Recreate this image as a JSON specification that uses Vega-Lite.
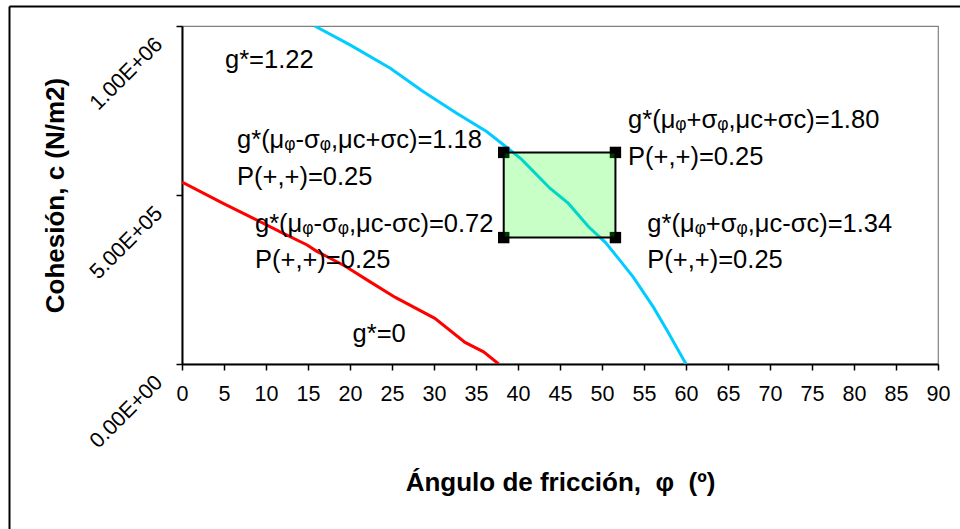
{
  "$schema": "https://vega.github.io/schema/vega-lite/v6.json",
  "autosize": {"type": "none"},
  "padding": {"left": 182, "top": 26, "right": 22, "bottom": 165},
  "width": 756,
  "height": 338,
  "background": "white",
  "config": {
    "view": {"stroke": "#808080", "strokeWidth": 1.2},
    "axis": {
      "grid": false,
      "labelFont": "Liberation Sans",
      "labelColor": "black",
      "labelFontSize": 21.5,
      "titleFont": "Liberation Sans",
      "titleFontWeight": "bold",
      "titleColor": "black",
      "titleFontSize": 26,
      "domainColor": "black",
      "domainWidth": 2,
      "tickColor": "black",
      "tickWidth": 1.5,
      "tickSize": 6,
      "labelFlush": false,
      "labelOverlap": false
    }
  },
  "datasets": {
    "curves": [
      {"series": "g*=0", "phi": 0, "c": 538000},
      {"series": "g*=0", "phi": 4.9, "c": 475000},
      {"series": "g*=0", "phi": 8.5, "c": 431000},
      {"series": "g*=0", "phi": 11.7, "c": 391000},
      {"series": "g*=0", "phi": 14.9, "c": 352000},
      {"series": "g*=0", "phi": 16.0, "c": 334000},
      {"series": "g*=0", "phi": 19.4, "c": 290000},
      {"series": "g*=0", "phi": 22.4, "c": 243000},
      {"series": "g*=0", "phi": 25.4, "c": 197000},
      {"series": "g*=0", "phi": 30.1, "c": 135000},
      {"series": "g*=0", "phi": 33.7, "c": 64000},
      {"series": "g*=0", "phi": 35.9, "c": 36000},
      {"series": "g*=0", "phi": 37.7, "c": 0},
      {"series": "g*=1.22", "phi": 15.8, "c": 1000000},
      {"series": "g*=1.22", "phi": 20.0, "c": 944000},
      {"series": "g*=1.22", "phi": 24.8, "c": 875000},
      {"series": "g*=1.22", "phi": 28.7, "c": 806000},
      {"series": "g*=1.22", "phi": 32.7, "c": 742000},
      {"series": "g*=1.22", "phi": 36.3, "c": 687000},
      {"series": "g*=1.22", "phi": 38.3, "c": 648000},
      {"series": "g*=1.22", "phi": 40.4, "c": 606000},
      {"series": "g*=1.22", "phi": 43.8, "c": 520000},
      {"series": "g*=1.22", "phi": 46.0, "c": 475000},
      {"series": "g*=1.22", "phi": 48.4, "c": 406000},
      {"series": "g*=1.22", "phi": 50.4, "c": 360000},
      {"series": "g*=1.22", "phi": 51.8, "c": 317000},
      {"series": "g*=1.22", "phi": 53.7, "c": 258000},
      {"series": "g*=1.22", "phi": 56.1, "c": 169000},
      {"series": "g*=1.22", "phi": 57.7, "c": 101000},
      {"series": "g*=1.22", "phi": 60.0, "c": 0}
    ],
    "box": [
      {"phi_lo": 38.3, "phi_hi": 51.6, "c_lo": 374000, "c_hi": 626000}
    ],
    "corners": [
      {"phi": 38.3, "c": 626000},
      {"phi": 51.6, "c": 626000},
      {"phi": 38.3, "c": 374000},
      {"phi": 51.6, "c": 374000}
    ],
    "notes": [
      {"phi": 5.12, "c": 876000, "label": "g*=1.22"},
      {"phi": 6.55, "c": 639000, "label": "g*(μᵩ-σᵩ,μc+σc)=1.18"},
      {"phi": 6.55, "c": 530000, "label": "P(+,+)=0.25"},
      {"phi": 8.69, "c": 391000, "label": "g*(μᵩ-σᵩ,μc-σc)=0.72"},
      {"phi": 8.69, "c": 284000, "label": "P(+,+)=0.25"},
      {"phi": 53.1, "c": 698000, "label": "g*(μᵩ+σᵩ,μc+σc)=1.80"},
      {"phi": 53.1, "c": 589000, "label": "P(+,+)=0.25"},
      {"phi": 55.4, "c": 391000, "label": "g*(μᵩ+σᵩ,μc-σc)=1.34"},
      {"phi": 55.4, "c": 284000, "label": "P(+,+)=0.25"},
      {"phi": 20.3, "c": 65000, "label": "g*=0"}
    ]
  },
  "resolve": {
    "scale": {"x": "independent", "y": "independent"},
    "axis": {"x": "independent", "y": "independent"}
  },
  "layer": [
    {
      "layer": [
        {
          "data": {"name": "curves"},
          "mark": {"type": "line", "strokeWidth": 3, "clip": true},
          "encoding": {
            "x": {
              "field": "phi",
              "type": "quantitative",
              "scale": {"domain": [0, 90], "nice": false, "zero": false},
              "axis": {
                "orient": "bottom",
                "values": [0, 5, 10, 15, 20, 25, 30, 35, 40, 45, 50, 55, 60, 65, 70, 75, 80, 85, 90],
                "labelPadding": 13,
                "title": "Ángulo de fricción,\u00a0\u00a0φ\u00a0\u00a0(º)",
                "titleBaseline": "alphabetic",
                "titleY": 126
              }
            },
            "y": {
              "field": "c",
              "type": "quantitative",
              "scale": {"domain": [0, 1000000], "nice": false},
              "axis": {
                "orient": "left",
                "values": [0, 500000, 1000000],
                "labelExpr": "replace(format(datum.value, '.2e'), 'e+', 'E+0')",
                "labelAngle": -45,
                "labelAlign": "right",
                "labelBaseline": "middle",
                "labelPadding": 17,
                "labelOffset": 15,
                "title": "Cohesión, c (N/m2)",
                "titleAngle": -90,
                "titleBaseline": "alphabetic",
                "titleX": -119,
                "titleY": 169
              }
            },
            "color": {
              "field": "series",
              "type": "nominal",
              "scale": {"domain": ["g*=0", "g*=1.22"], "range": ["#ff0000", "#00ccff"]},
              "legend": null
            }
          }
        },
        {
          "data": {"name": "corners"},
          "mark": {"type": "point", "shape": "square", "filled": true, "size": 130, "color": "black", "opacity": 1},
          "encoding": {
            "x": {"field": "phi", "type": "quantitative"},
            "y": {"field": "c", "type": "quantitative"}
          }
        },
        {
          "data": {"name": "box"},
          "mark": {"type": "rect", "fill": "#00ff00", "fillOpacity": 0.22, "stroke": "black", "strokeWidth": 2},
          "encoding": {
            "x": {"field": "phi_lo", "type": "quantitative"},
            "x2": {"field": "phi_hi"},
            "y": {"field": "c_lo", "type": "quantitative"},
            "y2": {"field": "c_hi"}
          }
        },
        {
          "data": {"name": "notes"},
          "mark": {"type": "text", "align": "left", "baseline": "alphabetic", "font": "Liberation Sans", "fontSize": 25.5, "color": "black"},
          "encoding": {
            "x": {"field": "phi", "type": "quantitative"},
            "y": {"field": "c", "type": "quantitative"},
            "text": {"field": "label"}
          }
        }
      ]
    },
    {
      "data": {"values": [{"edge": 0}]},
      "mark": {"type": "point", "opacity": 0},
      "encoding": {
        "x": {
          "field": "edge",
          "type": "quantitative",
          "scale": {"domain": [0, 1], "range": [-173, 778]},
          "axis": {"orient": "top", "offset": 20, "ticks": false, "labels": false, "title": null, "domainColor": "black", "domainWidth": 2}
        },
        "y": {
          "field": "edge",
          "type": "quantitative",
          "scale": {"domain": [0, 1], "range": [503, -20]},
          "axis": {"orient": "left", "offset": 173, "ticks": false, "labels": false, "title": null, "domainColor": "black", "domainWidth": 2}
        }
      }
    }
  ]
}
